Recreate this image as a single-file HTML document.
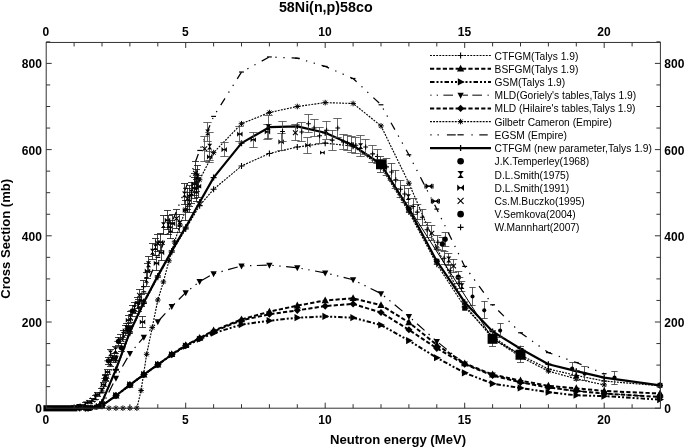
<!DOCTYPE html>
<html><head><meta charset="utf-8"><title>58Ni(n,p)58co</title>
<style>html,body{margin:0;padding:0;background:#fff;width:685px;height:447px;overflow:hidden;font-family:"Liberation Sans",sans-serif}</style></head>
<body>
<svg width="685" height="447" viewBox="0 0 685 447" style="position:absolute;left:0;top:0;will-change:transform">
<g>
<path d="M79.68,408.2 L88.05,406.48 L102,390.96 L115.95,360.79 L129.9,326.31 L143.85,291.83 L157.8,257.35 L171.75,222.87 L185.7,188.39 L199.65,150.46 L213.6,116.41 L241.5,72.02 L269.4,56.94 L297.3,58.23 L325.2,66.42 L353.1,78.49 L381,104.78 L408.9,154.77 L436.8,209.08 L464.7,266.4 L492.6,304.76 L520.5,332.77 L548.4,352.6 L576.3,362.51 L604.2,373.72" fill="none" stroke="#000" stroke-width="1.25" stroke-dasharray="8 6.7 1.3 6.7 1.3 7" stroke-dashoffset="1.77" stroke-linejoin="round"/>
<path d="M77.28,408.2 h4.8" stroke="#000" stroke-width="1.2"/>
<path d="M85.65,406.48 h4.8" stroke="#000" stroke-width="1.2"/>
<path d="M99.6,390.96 h4.8" stroke="#000" stroke-width="1.2"/>
<path d="M113.55,360.79 h4.8" stroke="#000" stroke-width="1.2"/>
<path d="M127.5,326.31 h4.8" stroke="#000" stroke-width="1.2"/>
<path d="M141.45,291.83 h4.8" stroke="#000" stroke-width="1.2"/>
<path d="M155.4,257.35 h4.8" stroke="#000" stroke-width="1.2"/>
<path d="M169.35,222.87 h4.8" stroke="#000" stroke-width="1.2"/>
<path d="M183.3,188.39 h4.8" stroke="#000" stroke-width="1.2"/>
<path d="M197.25,150.46 h4.8" stroke="#000" stroke-width="1.2"/>
<path d="M211.2,116.41 h4.8" stroke="#000" stroke-width="1.2"/>
<path d="M239.1,72.02 h4.8" stroke="#000" stroke-width="1.2"/>
<path d="M267,56.94 h4.8" stroke="#000" stroke-width="1.2"/>
<path d="M294.9,58.23 h4.8" stroke="#000" stroke-width="1.2"/>
<path d="M322.8,66.42 h4.8" stroke="#000" stroke-width="1.2"/>
<path d="M350.7,78.49 h4.8" stroke="#000" stroke-width="1.2"/>
<path d="M378.6,104.78 h4.8" stroke="#000" stroke-width="1.2"/>
<path d="M406.5,154.77 h4.8" stroke="#000" stroke-width="1.2"/>
<path d="M434.4,209.08 h4.8" stroke="#000" stroke-width="1.2"/>
<path d="M462.3,266.4 h4.8" stroke="#000" stroke-width="1.2"/>
<path d="M490.2,304.76 h4.8" stroke="#000" stroke-width="1.2"/>
<path d="M518.1,332.77 h4.8" stroke="#000" stroke-width="1.2"/>
<path d="M546,352.6 h4.8" stroke="#000" stroke-width="1.2"/>
<path d="M573.9,362.51 h4.8" stroke="#000" stroke-width="1.2"/>
<path d="M601.8,373.72 h4.8" stroke="#000" stroke-width="1.2"/>
<path d="M108.97,408.2 L115.95,408.2 L122.92,408.2 L129.9,408.2 L136.88,408.2 L141.06,390.53 L146.64,354.32 L152.22,327.6 L157.8,300.02 L163.38,281.92 L168.96,260.8 L174.54,241.83 L180.12,225.02 L185.7,209.51 L199.65,179.77 L213.6,152.62 L241.5,123.74 L269.4,112.53 L297.3,106.5 L325.2,102.62 L353.1,103.48 L381,125.89 L408.9,183.22 L436.8,247.87 L464.7,304.76 L492.6,338.38 L520.5,356.91 L548.4,371.13 L576.3,378.89 L604.2,384.93" fill="none" stroke="#000" stroke-width="1.15" stroke-dasharray="1.9 1.2" stroke-linejoin="round"/>
<path d="M106.17,408.2 h5.6 M108.97,405.4 v5.6 M106.96,406.18 l4.03,4.03 M106.96,410.22 l4.03,-4.03" stroke="#000" stroke-width="1.0" fill="none"/>
<path d="M113.15,408.2 h5.6 M115.95,405.4 v5.6 M113.93,406.18 l4.03,4.03 M113.93,410.22 l4.03,-4.03" stroke="#000" stroke-width="1.0" fill="none"/>
<path d="M120.12,408.2 h5.6 M122.92,405.4 v5.6 M120.91,406.18 l4.03,4.03 M120.91,410.22 l4.03,-4.03" stroke="#000" stroke-width="1.0" fill="none"/>
<path d="M127.1,408.2 h5.6 M129.9,405.4 v5.6 M127.88,406.18 l4.03,4.03 M127.88,410.22 l4.03,-4.03" stroke="#000" stroke-width="1.0" fill="none"/>
<path d="M134.07,408.2 h5.6 M136.88,405.4 v5.6 M134.86,406.18 l4.03,4.03 M134.86,410.22 l4.03,-4.03" stroke="#000" stroke-width="1.0" fill="none"/>
<path d="M138.26,390.53 h5.6 M141.06,387.73 v5.6 M139.04,388.51 l4.03,4.03 M139.04,392.55 l4.03,-4.03" stroke="#000" stroke-width="1.0" fill="none"/>
<path d="M143.84,354.32 h5.6 M146.64,351.52 v5.6 M144.62,352.31 l4.03,4.03 M144.62,356.34 l4.03,-4.03" stroke="#000" stroke-width="1.0" fill="none"/>
<path d="M149.42,327.6 h5.6 M152.22,324.8 v5.6 M150.2,325.59 l4.03,4.03 M150.2,329.62 l4.03,-4.03" stroke="#000" stroke-width="1.0" fill="none"/>
<path d="M155,300.02 h5.6 M157.8,297.22 v5.6 M155.78,298 l4.03,4.03 M155.78,302.04 l4.03,-4.03" stroke="#000" stroke-width="1.0" fill="none"/>
<path d="M160.58,281.92 h5.6 M163.38,279.12 v5.6 M161.36,279.9 l4.03,4.03 M161.36,283.93 l4.03,-4.03" stroke="#000" stroke-width="1.0" fill="none"/>
<path d="M166.16,260.8 h5.6 M168.96,258 v5.6 M166.94,258.78 l4.03,4.03 M166.94,262.81 l4.03,-4.03" stroke="#000" stroke-width="1.0" fill="none"/>
<path d="M171.74,241.83 h5.6 M174.54,239.03 v5.6 M172.52,239.82 l4.03,4.03 M172.52,243.85 l4.03,-4.03" stroke="#000" stroke-width="1.0" fill="none"/>
<path d="M177.32,225.02 h5.6 M180.12,222.22 v5.6 M178.1,223.01 l4.03,4.03 M178.1,227.04 l4.03,-4.03" stroke="#000" stroke-width="1.0" fill="none"/>
<path d="M182.9,209.51 h5.6 M185.7,206.71 v5.6 M183.68,207.49 l4.03,4.03 M183.68,211.52 l4.03,-4.03" stroke="#000" stroke-width="1.0" fill="none"/>
<path d="M196.85,179.77 h5.6 M199.65,176.97 v5.6 M197.63,177.75 l4.03,4.03 M197.63,181.79 l4.03,-4.03" stroke="#000" stroke-width="1.0" fill="none"/>
<path d="M210.8,152.62 h5.6 M213.6,149.82 v5.6 M211.58,150.6 l4.03,4.03 M211.58,154.63 l4.03,-4.03" stroke="#000" stroke-width="1.0" fill="none"/>
<path d="M238.7,123.74 h5.6 M241.5,120.94 v5.6 M239.48,121.72 l4.03,4.03 M239.48,125.76 l4.03,-4.03" stroke="#000" stroke-width="1.0" fill="none"/>
<path d="M266.6,112.53 h5.6 M269.4,109.73 v5.6 M267.38,110.52 l4.03,4.03 M267.38,114.55 l4.03,-4.03" stroke="#000" stroke-width="1.0" fill="none"/>
<path d="M294.5,106.5 h5.6 M297.3,103.7 v5.6 M295.28,104.48 l4.03,4.03 M295.28,108.52 l4.03,-4.03" stroke="#000" stroke-width="1.0" fill="none"/>
<path d="M322.4,102.62 h5.6 M325.2,99.82 v5.6 M323.18,100.6 l4.03,4.03 M323.18,104.64 l4.03,-4.03" stroke="#000" stroke-width="1.0" fill="none"/>
<path d="M350.3,103.48 h5.6 M353.1,100.68 v5.6 M351.08,101.47 l4.03,4.03 M351.08,105.5 l4.03,-4.03" stroke="#000" stroke-width="1.0" fill="none"/>
<path d="M378.2,125.89 h5.6 M381,123.09 v5.6 M378.98,123.88 l4.03,4.03 M378.98,127.91 l4.03,-4.03" stroke="#000" stroke-width="1.0" fill="none"/>
<path d="M406.1,183.22 h5.6 M408.9,180.42 v5.6 M406.88,181.2 l4.03,4.03 M406.88,185.23 l4.03,-4.03" stroke="#000" stroke-width="1.0" fill="none"/>
<path d="M434,247.87 h5.6 M436.8,245.07 v5.6 M434.78,245.85 l4.03,4.03 M434.78,249.88 l4.03,-4.03" stroke="#000" stroke-width="1.0" fill="none"/>
<path d="M461.9,304.76 h5.6 M464.7,301.96 v5.6 M462.68,302.74 l4.03,4.03 M462.68,306.78 l4.03,-4.03" stroke="#000" stroke-width="1.0" fill="none"/>
<path d="M489.8,338.38 h5.6 M492.6,335.58 v5.6 M490.58,336.36 l4.03,4.03 M490.58,340.39 l4.03,-4.03" stroke="#000" stroke-width="1.0" fill="none"/>
<path d="M517.7,356.91 h5.6 M520.5,354.11 v5.6 M518.48,354.89 l4.03,4.03 M518.48,358.93 l4.03,-4.03" stroke="#000" stroke-width="1.0" fill="none"/>
<path d="M545.6,371.13 h5.6 M548.4,368.33 v5.6 M546.38,369.12 l4.03,4.03 M546.38,373.15 l4.03,-4.03" stroke="#000" stroke-width="1.0" fill="none"/>
<path d="M573.5,378.89 h5.6 M576.3,376.09 v5.6 M574.28,376.88 l4.03,4.03 M574.28,380.91 l4.03,-4.03" stroke="#000" stroke-width="1.0" fill="none"/>
<path d="M601.4,384.93 h5.6 M604.2,382.13 v5.6 M602.18,382.91 l4.03,4.03 M602.18,386.94 l4.03,-4.03" stroke="#000" stroke-width="1.0" fill="none"/>
<path d="M79.68,408.2 L85.26,408.2 L90.84,407.77 L96.42,406.48 L102,402.17 L115.95,370.27 L129.9,333.21 L143.85,303.47 L157.8,277.18 L171.75,252.18 L185.7,228.9 L199.65,205.63 L213.6,189.25 L241.5,165.98 L269.4,153.48 L297.3,147.01 L325.2,143.13 L353.1,146.15 L381,166.84 L408.9,212.09 L436.8,264.25 L464.7,306.91 L492.6,336.65 L520.5,355.19 L548.4,368.98 L576.3,375.44 L604.2,381.05 L660,385.79" fill="none" stroke="#000" stroke-width="1.15" stroke-dasharray="1.9 1.2" stroke-linejoin="round"/>
<path d="M76.68,408.2 h6 M79.68,405.2 v6" stroke="#000" stroke-width="1.1" fill="none"/>
<path d="M82.26,408.2 h6 M85.26,405.2 v6" stroke="#000" stroke-width="1.1" fill="none"/>
<path d="M87.84,407.77 h6 M90.84,404.77 v6" stroke="#000" stroke-width="1.1" fill="none"/>
<path d="M93.42,406.48 h6 M96.42,403.48 v6" stroke="#000" stroke-width="1.1" fill="none"/>
<path d="M99,402.17 h6 M102,399.17 v6" stroke="#000" stroke-width="1.1" fill="none"/>
<path d="M112.95,370.27 h6 M115.95,367.27 v6" stroke="#000" stroke-width="1.1" fill="none"/>
<path d="M126.9,333.21 h6 M129.9,330.21 v6" stroke="#000" stroke-width="1.1" fill="none"/>
<path d="M140.85,303.47 h6 M143.85,300.47 v6" stroke="#000" stroke-width="1.1" fill="none"/>
<path d="M154.8,277.18 h6 M157.8,274.18 v6" stroke="#000" stroke-width="1.1" fill="none"/>
<path d="M168.75,252.18 h6 M171.75,249.18 v6" stroke="#000" stroke-width="1.1" fill="none"/>
<path d="M182.7,228.9 h6 M185.7,225.9 v6" stroke="#000" stroke-width="1.1" fill="none"/>
<path d="M196.65,205.63 h6 M199.65,202.63 v6" stroke="#000" stroke-width="1.1" fill="none"/>
<path d="M210.6,189.25 h6 M213.6,186.25 v6" stroke="#000" stroke-width="1.1" fill="none"/>
<path d="M238.5,165.98 h6 M241.5,162.98 v6" stroke="#000" stroke-width="1.1" fill="none"/>
<path d="M266.4,153.48 h6 M269.4,150.48 v6" stroke="#000" stroke-width="1.1" fill="none"/>
<path d="M294.3,147.01 h6 M297.3,144.01 v6" stroke="#000" stroke-width="1.1" fill="none"/>
<path d="M322.2,143.13 h6 M325.2,140.13 v6" stroke="#000" stroke-width="1.1" fill="none"/>
<path d="M350.1,146.15 h6 M353.1,143.15 v6" stroke="#000" stroke-width="1.1" fill="none"/>
<path d="M378,166.84 h6 M381,163.84 v6" stroke="#000" stroke-width="1.1" fill="none"/>
<path d="M405.9,212.09 h6 M408.9,209.09 v6" stroke="#000" stroke-width="1.1" fill="none"/>
<path d="M433.8,264.25 h6 M436.8,261.25 v6" stroke="#000" stroke-width="1.1" fill="none"/>
<path d="M461.7,306.91 h6 M464.7,303.91 v6" stroke="#000" stroke-width="1.1" fill="none"/>
<path d="M489.6,336.65 h6 M492.6,333.65 v6" stroke="#000" stroke-width="1.1" fill="none"/>
<path d="M517.5,355.19 h6 M520.5,352.19 v6" stroke="#000" stroke-width="1.1" fill="none"/>
<path d="M545.4,368.98 h6 M548.4,365.98 v6" stroke="#000" stroke-width="1.1" fill="none"/>
<path d="M573.3,375.44 h6 M576.3,372.44 v6" stroke="#000" stroke-width="1.1" fill="none"/>
<path d="M601.2,381.05 h6 M604.2,378.05 v6" stroke="#000" stroke-width="1.1" fill="none"/>
<path d="M657,385.79 h6 M660,382.79 v6" stroke="#000" stroke-width="1.1" fill="none"/>
<path d="M88.05,408.2 L102,406.05 L115.95,378.03 L129.9,353.46 L143.85,337.08 L157.8,321.57 L171.75,306.48 L185.7,292.69 L199.65,281.49 L213.6,273.73 L241.5,265.97 L269.4,265.11 L297.3,267.69 L325.2,272.87 L353.1,279.76 L381,293.55 L408.9,316.4 L436.8,341.39 L464.7,363.81 L492.6,375.01 L520.5,382.34 L548.4,387.51 L576.3,390.96 L604.2,393.55 L660,396.99" fill="none" stroke="#000" stroke-width="1.2" stroke-dasharray="10 5.5 1.4 5.5 1.4 5.5" stroke-linejoin="round"/>
<path d="M88.05,411.8 L91.2,405.8 L84.9,405.8 Z" fill="#000"/>
<path d="M102,409.65 L105.15,403.65 L98.85,403.65 Z" fill="#000"/>
<path d="M115.95,381.63 L119.1,375.63 L112.8,375.63 Z" fill="#000"/>
<path d="M129.9,357.06 L133.05,351.06 L126.75,351.06 Z" fill="#000"/>
<path d="M143.85,340.69 L147,334.69 L140.7,334.69 Z" fill="#000"/>
<path d="M157.8,325.17 L160.95,319.17 L154.65,319.17 Z" fill="#000"/>
<path d="M171.75,310.08 L174.9,304.08 L168.6,304.08 Z" fill="#000"/>
<path d="M185.7,296.29 L188.85,290.29 L182.55,290.29 Z" fill="#000"/>
<path d="M199.65,285.09 L202.8,279.09 L196.5,279.09 Z" fill="#000"/>
<path d="M213.6,277.33 L216.75,271.33 L210.45,271.33 Z" fill="#000"/>
<path d="M241.5,269.57 L244.65,263.57 L238.35,263.57 Z" fill="#000"/>
<path d="M269.4,268.71 L272.55,262.71 L266.25,262.71 Z" fill="#000"/>
<path d="M297.3,271.29 L300.45,265.29 L294.15,265.29 Z" fill="#000"/>
<path d="M325.2,276.47 L328.35,270.47 L322.05,270.47 Z" fill="#000"/>
<path d="M353.1,283.36 L356.25,277.36 L349.95,277.36 Z" fill="#000"/>
<path d="M381,297.15 L384.15,291.15 L377.85,291.15 Z" fill="#000"/>
<path d="M408.9,320 L412.05,314 L405.75,314 Z" fill="#000"/>
<path d="M436.8,345 L439.95,339 L433.65,339 Z" fill="#000"/>
<path d="M464.7,367.41 L467.85,361.41 L461.55,361.41 Z" fill="#000"/>
<path d="M492.6,378.61 L495.75,372.61 L489.45,372.61 Z" fill="#000"/>
<path d="M520.5,385.94 L523.65,379.94 L517.35,379.94 Z" fill="#000"/>
<path d="M548.4,391.11 L551.55,385.11 L545.25,385.11 Z" fill="#000"/>
<path d="M576.3,394.56 L579.45,388.56 L573.15,388.56 Z" fill="#000"/>
<path d="M604.2,397.15 L607.35,391.15 L601.05,391.15 Z" fill="#000"/>
<path d="M660,400.59 L663.15,394.59 L656.85,394.59 Z" fill="#000"/>
<path d="M88.05,408.2 L102,405.61 L115.95,395.7 L129.9,384.93 L143.85,374.58 L157.8,364.67 L171.75,354.32 L185.7,345.27 L199.65,337.95 L213.6,330.62 L241.5,319.41 L269.4,311.66 L297.3,305.62 L325.2,300.45 L353.1,298.29 L381,305.19 L408.9,322.43 L436.8,344.84 L464.7,363.38 L492.6,374.58 L520.5,380.62 L548.4,385.79 L576.3,388.37 L604.2,390.96 L660,393.55" fill="none" stroke="#000" stroke-width="2.0" stroke-dasharray="4.2 2.2" stroke-linejoin="round"/>
<path d="M88.05,404.2 L91.65,411 L84.45,411 Z" fill="#000"/>
<path d="M102,401.61 L105.6,408.41 L98.4,408.41 Z" fill="#000"/>
<path d="M115.95,391.7 L119.55,398.5 L112.35,398.5 Z" fill="#000"/>
<path d="M129.9,380.93 L133.5,387.73 L126.3,387.73 Z" fill="#000"/>
<path d="M143.85,370.58 L147.45,377.38 L140.25,377.38 Z" fill="#000"/>
<path d="M157.8,360.67 L161.4,367.47 L154.2,367.47 Z" fill="#000"/>
<path d="M171.75,350.32 L175.35,357.12 L168.15,357.12 Z" fill="#000"/>
<path d="M185.7,341.27 L189.3,348.07 L182.1,348.07 Z" fill="#000"/>
<path d="M199.65,333.95 L203.25,340.75 L196.05,340.75 Z" fill="#000"/>
<path d="M213.6,326.62 L217.2,333.42 L210,333.42 Z" fill="#000"/>
<path d="M241.5,315.41 L245.1,322.21 L237.9,322.21 Z" fill="#000"/>
<path d="M269.4,307.66 L273,314.46 L265.8,314.46 Z" fill="#000"/>
<path d="M297.3,301.62 L300.9,308.42 L293.7,308.42 Z" fill="#000"/>
<path d="M325.2,296.45 L328.8,303.25 L321.6,303.25 Z" fill="#000"/>
<path d="M353.1,294.29 L356.7,301.09 L349.5,301.09 Z" fill="#000"/>
<path d="M381,301.19 L384.6,307.99 L377.4,307.99 Z" fill="#000"/>
<path d="M408.9,318.43 L412.5,325.23 L405.3,325.23 Z" fill="#000"/>
<path d="M436.8,340.84 L440.4,347.64 L433.2,347.64 Z" fill="#000"/>
<path d="M464.7,359.38 L468.3,366.18 L461.1,366.18 Z" fill="#000"/>
<path d="M492.6,370.58 L496.2,377.38 L489,377.38 Z" fill="#000"/>
<path d="M520.5,376.62 L524.1,383.42 L516.9,383.42 Z" fill="#000"/>
<path d="M548.4,381.79 L552,388.59 L544.8,388.59 Z" fill="#000"/>
<path d="M576.3,384.37 L579.9,391.17 L572.7,391.17 Z" fill="#000"/>
<path d="M604.2,386.96 L607.8,393.76 L600.6,393.76 Z" fill="#000"/>
<path d="M660,389.55 L663.6,396.35 L656.4,396.35 Z" fill="#000"/>
<path d="M88.05,408.2 L102,405.61 L115.95,395.7 L129.9,384.93 L143.85,374.58 L157.8,364.67 L171.75,354.76 L185.7,345.7 L199.65,338.38 L213.6,331.48 L241.5,320.28 L269.4,314.24 L297.3,310.36 L325.2,306.05 L353.1,303.9 L381,312.52 L408.9,329.76 L436.8,348.29 L464.7,364.24 L492.6,375.44 L520.5,382.34 L548.4,387.51 L576.3,390.96 L604.2,393.55 L660,396.99" fill="none" stroke="#000" stroke-width="2.0" stroke-dasharray="4.2 2.2" stroke-dashoffset="3.2" stroke-linejoin="round"/>
<path d="M88.05,404.6 L91.65,408.2 L88.05,411.8 L84.45,408.2 Z" fill="#000"/>
<path d="M102,402.01 L105.6,405.61 L102,409.21 L98.4,405.61 Z" fill="#000"/>
<path d="M115.95,392.1 L119.55,395.7 L115.95,399.3 L112.35,395.7 Z" fill="#000"/>
<path d="M129.9,381.33 L133.5,384.93 L129.9,388.53 L126.3,384.93 Z" fill="#000"/>
<path d="M143.85,370.98 L147.45,374.58 L143.85,378.18 L140.25,374.58 Z" fill="#000"/>
<path d="M157.8,361.07 L161.4,364.67 L157.8,368.27 L154.2,364.67 Z" fill="#000"/>
<path d="M171.75,351.16 L175.35,354.76 L171.75,358.36 L168.15,354.76 Z" fill="#000"/>
<path d="M185.7,342.1 L189.3,345.7 L185.7,349.31 L182.1,345.7 Z" fill="#000"/>
<path d="M199.65,334.78 L203.25,338.38 L199.65,341.98 L196.05,338.38 Z" fill="#000"/>
<path d="M213.6,327.88 L217.2,331.48 L213.6,335.08 L210,331.48 Z" fill="#000"/>
<path d="M241.5,316.68 L245.1,320.28 L241.5,323.88 L237.9,320.28 Z" fill="#000"/>
<path d="M269.4,310.64 L273,314.24 L269.4,317.84 L265.8,314.24 Z" fill="#000"/>
<path d="M297.3,306.76 L300.9,310.36 L297.3,313.96 L293.7,310.36 Z" fill="#000"/>
<path d="M325.2,302.45 L328.8,306.05 L325.2,309.65 L321.6,306.05 Z" fill="#000"/>
<path d="M353.1,300.3 L356.7,303.9 L353.1,307.5 L349.5,303.9 Z" fill="#000"/>
<path d="M381,308.92 L384.6,312.52 L381,316.12 L377.4,312.52 Z" fill="#000"/>
<path d="M408.9,326.16 L412.5,329.76 L408.9,333.36 L405.3,329.76 Z" fill="#000"/>
<path d="M436.8,344.69 L440.4,348.29 L436.8,351.89 L433.2,348.29 Z" fill="#000"/>
<path d="M464.7,360.64 L468.3,364.24 L464.7,367.84 L461.1,364.24 Z" fill="#000"/>
<path d="M492.6,371.84 L496.2,375.44 L492.6,379.04 L489,375.44 Z" fill="#000"/>
<path d="M520.5,378.74 L524.1,382.34 L520.5,385.94 L516.9,382.34 Z" fill="#000"/>
<path d="M548.4,383.91 L552,387.51 L548.4,391.11 L544.8,387.51 Z" fill="#000"/>
<path d="M576.3,387.36 L579.9,390.96 L576.3,394.56 L572.7,390.96 Z" fill="#000"/>
<path d="M604.2,389.95 L607.8,393.55 L604.2,397.15 L600.6,393.55 Z" fill="#000"/>
<path d="M660,393.39 L663.6,396.99 L660,400.59 L656.4,396.99 Z" fill="#000"/>
<path d="M88.05,408.2 L102,405.61 L115.95,395.7 L129.9,384.93 L143.85,374.58 L157.8,364.67 L171.75,354.76 L185.7,346.14 L199.65,339.24 L213.6,333.21 L241.5,324.59 L269.4,320.71 L297.3,317.69 L325.2,316.4 L353.1,317.69 L381,325.02 L408.9,340.53 L436.8,357.77 L464.7,372.86 L492.6,383.63 L520.5,387.94 L548.4,392.25 L576.3,395.27 L604.2,396.13 L660,399.58" fill="none" stroke="#000" stroke-width="2.0" stroke-dasharray="4.5 2 2 2 2 2" stroke-dashoffset="1.5" stroke-linejoin="round"/>
<path d="M92.05,408.2 L85.25,404.6 L85.25,411.8 Z" fill="#000"/>
<path d="M106,405.61 L99.2,402.01 L99.2,409.21 Z" fill="#000"/>
<path d="M119.95,395.7 L113.15,392.1 L113.15,399.3 Z" fill="#000"/>
<path d="M133.9,384.93 L127.1,381.33 L127.1,388.53 Z" fill="#000"/>
<path d="M147.85,374.58 L141.05,370.98 L141.05,378.18 Z" fill="#000"/>
<path d="M161.8,364.67 L155,361.07 L155,368.27 Z" fill="#000"/>
<path d="M175.75,354.76 L168.95,351.16 L168.95,358.36 Z" fill="#000"/>
<path d="M189.7,346.14 L182.9,342.54 L182.9,349.74 Z" fill="#000"/>
<path d="M203.65,339.24 L196.85,335.64 L196.85,342.84 Z" fill="#000"/>
<path d="M217.6,333.21 L210.8,329.61 L210.8,336.81 Z" fill="#000"/>
<path d="M245.5,324.59 L238.7,320.99 L238.7,328.19 Z" fill="#000"/>
<path d="M273.4,320.71 L266.6,317.11 L266.6,324.31 Z" fill="#000"/>
<path d="M301.3,317.69 L294.5,314.09 L294.5,321.29 Z" fill="#000"/>
<path d="M329.2,316.4 L322.4,312.8 L322.4,320 Z" fill="#000"/>
<path d="M357.1,317.69 L350.3,314.09 L350.3,321.29 Z" fill="#000"/>
<path d="M385,325.02 L378.2,321.42 L378.2,328.62 Z" fill="#000"/>
<path d="M412.9,340.53 L406.1,336.93 L406.1,344.13 Z" fill="#000"/>
<path d="M440.8,357.77 L434,354.17 L434,361.37 Z" fill="#000"/>
<path d="M468.7,372.86 L461.9,369.26 L461.9,376.46 Z" fill="#000"/>
<path d="M496.6,383.63 L489.8,380.03 L489.8,387.23 Z" fill="#000"/>
<path d="M524.5,387.94 L517.7,384.34 L517.7,391.54 Z" fill="#000"/>
<path d="M552.4,392.25 L545.6,388.65 L545.6,395.85 Z" fill="#000"/>
<path d="M580.3,395.27 L573.5,391.67 L573.5,398.87 Z" fill="#000"/>
<path d="M608.2,396.13 L601.4,392.53 L601.4,399.73 Z" fill="#000"/>
<path d="M664,399.58 L657.2,395.98 L657.2,403.18 Z" fill="#000"/>
<path d="M79.68,408.2 L85.26,408.2 L90.84,407.77 L96.42,406.48 L102,402.17 L115.95,369.41 L129.9,331.91 L143.85,302.17 L157.8,275.88 L171.75,250.88 L185.7,227.18 L199.65,202.18 L213.6,177.61 L241.5,143.13 L269.4,127.19 L297.3,126.33 L325.2,132.79 L353.1,145.29 L381,164.25 L408.9,209.08 L436.8,261.23 L464.7,302.17 L492.6,331.48 L520.5,348.72 L548.4,364.24 L576.3,371.13 L604.2,377.6 L660,385.36" fill="none" stroke="#000" stroke-width="2.2" stroke-linejoin="round"/>
<path d="M76.68,408.2 h6 M79.68,405.2 v6" stroke="#000" stroke-width="1.3" fill="none"/>
<path d="M82.26,408.2 h6 M85.26,405.2 v6" stroke="#000" stroke-width="1.3" fill="none"/>
<path d="M87.84,407.77 h6 M90.84,404.77 v6" stroke="#000" stroke-width="1.3" fill="none"/>
<path d="M93.42,406.48 h6 M96.42,403.48 v6" stroke="#000" stroke-width="1.3" fill="none"/>
<path d="M99,402.17 h6 M102,399.17 v6" stroke="#000" stroke-width="1.3" fill="none"/>
<path d="M112.95,369.41 h6 M115.95,366.41 v6" stroke="#000" stroke-width="1.3" fill="none"/>
<path d="M126.9,331.91 h6 M129.9,328.91 v6" stroke="#000" stroke-width="1.3" fill="none"/>
<path d="M140.85,302.17 h6 M143.85,299.17 v6" stroke="#000" stroke-width="1.3" fill="none"/>
<path d="M154.8,275.88 h6 M157.8,272.88 v6" stroke="#000" stroke-width="1.3" fill="none"/>
<path d="M168.75,250.88 h6 M171.75,247.88 v6" stroke="#000" stroke-width="1.3" fill="none"/>
<path d="M182.7,227.18 h6 M185.7,224.18 v6" stroke="#000" stroke-width="1.3" fill="none"/>
<path d="M196.65,202.18 h6 M199.65,199.18 v6" stroke="#000" stroke-width="1.3" fill="none"/>
<path d="M210.6,177.61 h6 M213.6,174.61 v6" stroke="#000" stroke-width="1.3" fill="none"/>
<path d="M238.5,143.13 h6 M241.5,140.13 v6" stroke="#000" stroke-width="1.3" fill="none"/>
<path d="M266.4,127.19 h6 M269.4,124.19 v6" stroke="#000" stroke-width="1.3" fill="none"/>
<path d="M294.3,126.33 h6 M297.3,123.33 v6" stroke="#000" stroke-width="1.3" fill="none"/>
<path d="M322.2,132.79 h6 M325.2,129.79 v6" stroke="#000" stroke-width="1.3" fill="none"/>
<path d="M350.1,145.29 h6 M353.1,142.29 v6" stroke="#000" stroke-width="1.3" fill="none"/>
<path d="M378,164.25 h6 M381,161.25 v6" stroke="#000" stroke-width="1.3" fill="none"/>
<path d="M405.9,209.08 h6 M408.9,206.08 v6" stroke="#000" stroke-width="1.3" fill="none"/>
<path d="M433.8,261.23 h6 M436.8,258.23 v6" stroke="#000" stroke-width="1.3" fill="none"/>
<path d="M461.7,302.17 h6 M464.7,299.17 v6" stroke="#000" stroke-width="1.3" fill="none"/>
<path d="M489.6,331.48 h6 M492.6,328.48 v6" stroke="#000" stroke-width="1.3" fill="none"/>
<path d="M517.5,348.72 h6 M520.5,345.72 v6" stroke="#000" stroke-width="1.3" fill="none"/>
<path d="M545.4,364.24 h6 M548.4,361.24 v6" stroke="#000" stroke-width="1.3" fill="none"/>
<path d="M573.3,371.13 h6 M576.3,368.13 v6" stroke="#000" stroke-width="1.3" fill="none"/>
<path d="M601.2,377.6 h6 M604.2,374.6 v6" stroke="#000" stroke-width="1.3" fill="none"/>
<path d="M657,385.36 h6 M660,382.36 v6" stroke="#000" stroke-width="1.3" fill="none"/>
<rect x="43.4" y="405.2" width="34.05" height="6.2" fill="#000"/>
<path d="M78.28,405.32 L81.16,408.2 L78.28,411.08 L75.41,408.2 Z" fill="#000"/>
<path d="M81.08,405.29 L83.95,408.17 L81.08,411.05 L78.2,408.17 Z" fill="#000"/>
<path d="M83.86,405.21 L86.74,408.09 L83.86,410.97 L80.98,408.09 Z" fill="#000"/>
<path d="M86.66,405.08 L89.53,407.96 L86.66,410.84 L83.78,407.96 Z" fill="#000"/>
<path d="M89.44,404.89 L92.32,407.77 L89.44,410.65 L86.56,407.77 Z" fill="#000"/>
<path d="M92.23,404.65 L95.11,407.53 L92.23,410.41 L89.36,407.53 Z" fill="#000"/>
<path d="M95.03,404.35 L97.91,407.23 L95.03,410.11 L92.15,407.23 Z" fill="#000"/>
<path d="M97.81,404 L100.69,406.88 L97.81,409.76 L94.94,406.88 Z" fill="#000"/>
<path d="M100.6,403.6 L103.48,406.48 L100.6,409.36 L97.72,406.48 Z" fill="#000"/>
<path d="M74.5,405.5 V408.5 M71,405.5 h7 M71,408.5 h7" stroke="#111" stroke-width="0.8" fill="none"/>
<path d="M71.78,404.78 L71.78,409.9 L77.22,404.78 L77.22,409.9 Z" fill="#000"/><path d="M72.87,407.34 h3.26" stroke="#000" stroke-width="1.04"/>
<path d="M78.5,405.5 V408.5 M75,405.5 h7 M75,408.5 h7" stroke="#111" stroke-width="0.8" fill="none"/>
<path d="M75.94,404.03 L81.06,404.03 L75.94,409.79 L81.06,409.79 Z" fill="#000"/><path d="M78.5,405.18 v3.46" stroke="#000" stroke-width="1.04"/>
<path d="M82.5,404.5 V407.5 M79,404.5 h7 M79,407.5 h7" stroke="#111" stroke-width="0.8" fill="none"/>
<path d="M79.78,403.05 L79.78,408.17 L85.22,403.05 L85.22,408.17 Z" fill="#000"/><path d="M80.87,405.61 h3.26" stroke="#000" stroke-width="1.04"/>
<path d="M85.5,402.5 V405.5 M82,402.5 h7 M82,405.5 h7" stroke="#111" stroke-width="0.8" fill="none"/>
<path d="M82.94,401.44 L88.06,401.44 L82.94,407.2 L88.06,407.2 Z" fill="#000"/><path d="M85.5,402.59 v3.46" stroke="#000" stroke-width="1.04"/>
<path d="M89.5,400.5 V403.5 M86,400.5 h7 M86,403.5 h7" stroke="#111" stroke-width="0.8" fill="none"/>
<path d="M86.78,399.61 L86.78,404.73 L92.22,399.61 L92.22,404.73 Z" fill="#000"/><path d="M87.87,402.17 h3.26" stroke="#000" stroke-width="1.04"/>
<path d="M92.5,398.5 V401.5 M89,398.5 h7 M89,401.5 h7" stroke="#111" stroke-width="0.8" fill="none"/>
<path d="M90.1,397.61 l4.8,4.8 M90.1,402.41 l4.8,-4.8" stroke="#000" stroke-width="1.1" fill="none"/>
<path d="M95.5,395.5 V399.5 M92,395.5 h7 M92,399.5 h7" stroke="#111" stroke-width="0.8" fill="none"/>
<path d="M92.94,394.55 L98.06,394.55 L92.94,400.31 L98.06,400.31 Z" fill="#000"/><path d="M95.5,395.7 v3.46" stroke="#000" stroke-width="1.04"/>
<path d="M97.5,392.5 V396.5 M94,392.5 h7 M94,396.5 h7" stroke="#111" stroke-width="0.8" fill="none"/>
<path d="M94.78,391.85 L94.78,396.97 L100.22,391.85 L100.22,396.97 Z" fill="#000"/><path d="M95.87,394.41 h3.26" stroke="#000" stroke-width="1.04"/>
<path d="M101.5,388.5 V392.5 M98,388.5 h7 M98,392.5 h7" stroke="#111" stroke-width="0.8" fill="none"/>
<path d="M98.94,387.65 L104.06,387.65 L98.94,393.41 L104.06,393.41 Z" fill="#000"/><path d="M101.5,388.8 v3.46" stroke="#000" stroke-width="1.04"/>
<path d="M108.5,357.5 V364.5 M105,357.5 h7 M105,364.5 h7 M104.3,360.79 h8.4" stroke="#111" stroke-width="0.8" fill="none"/>
<circle cx="108.5" cy="360.79" r="2.64" fill="#000"/>
<path d="M105.5,375.5 V381.5 M102,375.5 h7 M102,381.5 h7 M101.3,378.46 h8.4" stroke="#111" stroke-width="0.8" fill="none"/>
<circle cx="105.5" cy="378.46" r="2.64" fill="#000"/>
<path d="M110.5,349.5 V357.5 M107,349.5 h7 M107,357.5 h7" stroke="#111" stroke-width="0.8" fill="none"/>
<path d="M107.94,350.58 L113.06,350.58 L107.94,356.34 L113.06,356.34 Z" fill="#000"/><path d="M110.5,351.73 v3.46" stroke="#000" stroke-width="1.04"/>
<path d="M114.5,353.5 V360.5 M111,353.5 h7 M111,360.5 h7" stroke="#111" stroke-width="0.8" fill="none"/>
<path d="M111.78,354.35 L111.78,359.47 L117.22,354.35 L117.22,359.47 Z" fill="#000"/><path d="M112.87,356.91 h3.26" stroke="#000" stroke-width="1.04"/>
<path d="M121.5,343.5 V351.5 M118,343.5 h7 M118,351.5 h7 M117.3,347.86 h8.4" stroke="#111" stroke-width="0.8" fill="none"/>
<circle cx="121.5" cy="347.86" r="2.64" fill="#000"/>
<path d="M128.5,323.5 V333.5 M125,323.5 h7 M125,333.5 h7 M124.3,328.46 h8.4" stroke="#111" stroke-width="0.8" fill="none"/>
<circle cx="128.5" cy="328.46" r="2.64" fill="#000"/>
<path d="M103.5,382.5 V386.5 M100,382.5 h7 M100,386.5 h7" stroke="#111" stroke-width="0.8" fill="none"/>
<path d="M100.78,381.94 L100.78,387.06 L106.22,381.94 L106.22,387.06 Z" fill="#000"/><path d="M101.87,384.5 h3.26" stroke="#000" stroke-width="1.04"/>
<path d="M105.5,374.5 V380.5 M102,374.5 h7 M102,380.5 h7" stroke="#111" stroke-width="0.8" fill="none"/>
<path d="M102.94,374.72 L108.06,374.72 L102.94,380.48 L108.06,380.48 Z" fill="#000"/><path d="M105.5,375.87 v3.46" stroke="#000" stroke-width="1.04"/>
<path d="M107.5,369.5 V374.5 M104,369.5 h7 M104,374.5 h7" stroke="#111" stroke-width="0.8" fill="none"/>
<path d="M104.78,369.44 L104.78,374.56 L110.22,369.44 L110.22,374.56 Z" fill="#000"/><path d="M105.87,372 h3.26" stroke="#000" stroke-width="1.04"/>
<path d="M110.5,359.5 V366.5 M107,359.5 h7 M107,366.5 h7" stroke="#111" stroke-width="0.8" fill="none"/>
<path d="M107.94,360.06 L113.06,360.06 L107.94,365.82 L113.06,365.82 Z" fill="#000"/><path d="M110.5,361.22 v3.46" stroke="#000" stroke-width="1.04"/>
<path d="M113.5,355.5 V362.5 M110,355.5 h7 M110,362.5 h7" stroke="#111" stroke-width="0.8" fill="none"/>
<path d="M110.78,356.07 L110.78,361.19 L116.22,356.07 L116.22,361.19 Z" fill="#000"/><path d="M111.87,358.63 h3.26" stroke="#000" stroke-width="1.04"/>
<path d="M115.5,346.5 V353.5 M112,346.5 h7 M112,353.5 h7" stroke="#111" stroke-width="0.8" fill="none"/>
<path d="M112.94,347.13 L118.06,347.13 L112.94,352.89 L118.06,352.89 Z" fill="#000"/><path d="M115.5,348.29 v3.46" stroke="#000" stroke-width="1.04"/>
<path d="M118.5,337.5 V345.5 M115,337.5 h7 M115,345.5 h7 M114.3,341.39 h8.4" stroke="#111" stroke-width="0.8" fill="none"/>
<circle cx="118.5" cy="341.39" r="2.64" fill="#000"/>
<path d="M120.5,334.5 V343.5 M117,334.5 h7 M117,343.5 h7" stroke="#111" stroke-width="0.8" fill="none"/>
<path d="M117.78,336.68 L117.78,341.8 L123.22,336.68 L123.22,341.8 Z" fill="#000"/><path d="M118.87,339.24 h3.26" stroke="#000" stroke-width="1.04"/>
<path d="M123.5,330.5 V339.5 M120,330.5 h7 M120,339.5 h7" stroke="#111" stroke-width="0.8" fill="none"/>
<path d="M120.94,332.05 L126.06,332.05 L120.94,337.81 L126.06,337.81 Z" fill="#000"/><path d="M123.5,333.2 v3.46" stroke="#000" stroke-width="1.04"/>
<path d="M125.5,325.5 V335.5 M122,325.5 h7 M122,335.5 h7" stroke="#111" stroke-width="0.8" fill="none"/>
<path d="M122.78,328.06 L122.78,333.18 L128.22,328.06 L128.22,333.18 Z" fill="#000"/><path d="M123.87,330.62 h3.26" stroke="#000" stroke-width="1.04"/>
<path d="M126.5,323.5 V332.5 M123,323.5 h7 M123,332.5 h7" stroke="#111" stroke-width="0.8" fill="none"/>
<path d="M123.94,325.15 L129.06,325.15 L123.94,330.91 L129.06,330.91 Z" fill="#000"/><path d="M126.5,326.31 v3.46" stroke="#000" stroke-width="1.04"/>
<path d="M128.5,315.5 V325.5 M125,315.5 h7 M125,325.5 h7" stroke="#111" stroke-width="0.8" fill="none"/>
<path d="M125.78,317.72 L125.78,322.84 L131.22,317.72 L131.22,322.84 Z" fill="#000"/><path d="M126.87,320.28 h3.26" stroke="#000" stroke-width="1.04"/>
<path d="M130.5,311.5 V322.5 M127,311.5 h7 M127,322.5 h7" stroke="#111" stroke-width="0.8" fill="none"/>
<path d="M127.94,313.95 L133.06,313.95 L127.94,319.71 L133.06,319.71 Z" fill="#000"/><path d="M130.5,315.1 v3.46" stroke="#000" stroke-width="1.04"/>
<path d="M132.5,305.5 V316.5 M129,305.5 h7 M129,316.5 h7 M128.3,310.79 h8.4" stroke="#111" stroke-width="0.8" fill="none"/>
<circle cx="132.5" cy="310.79" r="2.64" fill="#000"/>
<path d="M134.5,302.5 V313.5 M131,302.5 h7 M131,313.5 h7" stroke="#111" stroke-width="0.8" fill="none"/>
<path d="M131.94,305.33 L137.06,305.33 L131.94,311.09 L137.06,311.09 Z" fill="#000"/><path d="M134.5,306.48 v3.46" stroke="#000" stroke-width="1.04"/>
<path d="M137.5,297.5 V308.5 M134,297.5 h7 M134,308.5 h7" stroke="#111" stroke-width="0.8" fill="none"/>
<path d="M134.78,300.48 L134.78,305.6 L140.22,300.48 L140.22,305.6 Z" fill="#000"/><path d="M135.87,303.04 h3.26" stroke="#000" stroke-width="1.04"/>
<path d="M138.5,299.5 V311.5 M135,299.5 h7 M135,311.5 h7" stroke="#111" stroke-width="0.8" fill="none"/>
<path d="M135.94,302.74 L141.06,302.74 L135.94,308.5 L141.06,308.5 Z" fill="#000"/><path d="M138.5,303.89 v3.46" stroke="#000" stroke-width="1.04"/>
<path d="M139.5,289.5 V301.5 M136,289.5 h7 M136,301.5 h7" stroke="#111" stroke-width="0.8" fill="none"/>
<path d="M137.1,292.88 l4.8,4.8 M137.1,297.68 l4.8,-4.8" stroke="#000" stroke-width="1.1" fill="none"/>
<path d="M141.5,294.5 V306.5 M138,294.5 h7 M138,306.5 h7" stroke="#111" stroke-width="0.8" fill="none"/>
<path d="M138.78,297.89 L138.78,303.01 L144.22,297.89 L144.22,303.01 Z" fill="#000"/><path d="M139.87,300.45 h3.26" stroke="#000" stroke-width="1.04"/>
<path d="M142.5,316.5 V327.5 M139,316.5 h7 M139,327.5 h7" stroke="#111" stroke-width="0.8" fill="none"/>
<path d="M139.78,319.44 L139.78,324.56 L145.22,319.44 L145.22,324.56 Z" fill="#000"/><path d="M140.87,322 h3.26" stroke="#000" stroke-width="1.04"/>
<path d="M143.5,280.5 V293.5 M140,280.5 h7 M140,293.5 h7" stroke="#111" stroke-width="0.8" fill="none"/>
<path d="M141.1,286.66 h4.8 M143.5,284.26 v4.8" stroke="#000" stroke-width="1.1" fill="none"/>
<path d="M146.5,272.5 V286.5 M143,272.5 h7 M143,286.5 h7" stroke="#111" stroke-width="0.8" fill="none"/>
<path d="M143.94,276.88 L149.06,276.88 L143.94,282.64 L149.06,282.64 Z" fill="#000"/><path d="M146.5,278.03 v3.46" stroke="#000" stroke-width="1.04"/>
<path d="M147.5,263.5 V278.5 M144,263.5 h7 M144,278.5 h7" stroke="#111" stroke-width="0.8" fill="none"/>
<path d="M144.78,268.58 L144.78,273.7 L150.22,268.58 L150.22,273.7 Z" fill="#000"/><path d="M145.87,271.14 h3.26" stroke="#000" stroke-width="1.04"/>
<path d="M148.5,256.5 V271.5 M145,256.5 h7 M145,271.5 h7" stroke="#111" stroke-width="0.8" fill="none"/>
<path d="M145.94,261.37 L151.06,261.37 L145.94,267.13 L151.06,267.13 Z" fill="#000"/><path d="M148.5,262.52 v3.46" stroke="#000" stroke-width="1.04"/>
<path d="M156.5,255.5 V270.5 M153,255.5 h7 M153,270.5 h7" stroke="#111" stroke-width="0.8" fill="none"/>
<path d="M153.78,260.82 L153.78,265.94 L159.22,260.82 L159.22,265.94 Z" fill="#000"/><path d="M154.87,263.38 h3.26" stroke="#000" stroke-width="1.04"/>
<path d="M152.5,243.5 V259.5 M149,243.5 h7 M149,259.5 h7" stroke="#111" stroke-width="0.8" fill="none"/>
<path d="M149.94,248.87 L155.06,248.87 L149.94,254.63 L155.06,254.63 Z" fill="#000"/><path d="M152.5,250.02 v3.46" stroke="#000" stroke-width="1.04"/>
<path d="M161.5,244.5 V260.5 M158,244.5 h7 M158,260.5 h7" stroke="#111" stroke-width="0.8" fill="none"/>
<path d="M158.78,250.05 L158.78,255.17 L164.22,250.05 L164.22,255.17 Z" fill="#000"/><path d="M159.87,252.61 h3.26" stroke="#000" stroke-width="1.04"/>
<path d="M155.5,238.5 V255.5 M152,238.5 h7 M152,255.5 h7" stroke="#111" stroke-width="0.8" fill="none"/>
<path d="M152.94,244.13 L158.06,244.13 L152.94,249.89 L158.06,249.89 Z" fill="#000"/><path d="M155.5,245.28 v3.46" stroke="#000" stroke-width="1.04"/>
<path d="M160.5,233.5 V250.5 M157,233.5 h7 M157,250.5 h7" stroke="#111" stroke-width="0.8" fill="none"/>
<path d="M157.78,239.7 L157.78,244.82 L163.22,239.7 L163.22,244.82 Z" fill="#000"/><path d="M158.87,242.26 h3.26" stroke="#000" stroke-width="1.04"/>
<path d="M157.5,234.5 V251.5 M154,234.5 h7 M154,251.5 h7" stroke="#111" stroke-width="0.8" fill="none"/>
<path d="M155.1,240.73 l4.8,4.8 M155.1,245.53 l4.8,-4.8" stroke="#000" stroke-width="1.1" fill="none"/>
<path d="M163.5,215.5 V234.5 M160,215.5 h7 M160,234.5 h7" stroke="#111" stroke-width="0.8" fill="none"/>
<path d="M160.94,222.14 L166.06,222.14 L160.94,227.9 L166.06,227.9 Z" fill="#000"/><path d="M163.5,223.3 v3.46" stroke="#000" stroke-width="1.04"/>
<path d="M167.5,210.5 V229.5 M164,210.5 h7 M164,229.5 h7" stroke="#111" stroke-width="0.8" fill="none"/>
<path d="M164.78,217.72 L164.78,222.84 L170.22,217.72 L170.22,222.84 Z" fill="#000"/><path d="M165.87,220.28 h3.26" stroke="#000" stroke-width="1.04"/>
<path d="M168.5,215.5 V234.5 M165,215.5 h7 M165,234.5 h7" stroke="#111" stroke-width="0.8" fill="none"/>
<path d="M165.94,222.14 L171.06,222.14 L165.94,227.9 L171.06,227.9 Z" fill="#000"/><path d="M168.5,223.3 v3.46" stroke="#000" stroke-width="1.04"/>
<path d="M172.5,214.5 V232.5 M169,214.5 h7 M169,232.5 h7" stroke="#111" stroke-width="0.8" fill="none"/>
<path d="M169.78,221.17 L169.78,226.29 L175.22,221.17 L175.22,226.29 Z" fill="#000"/><path d="M170.87,223.73 h3.26" stroke="#000" stroke-width="1.04"/>
<path d="M179.5,214.5 V232.5 M176,214.5 h7 M176,232.5 h7" stroke="#111" stroke-width="0.8" fill="none"/>
<path d="M176.94,220.85 L182.06,220.85 L176.94,226.61 L182.06,226.61 Z" fill="#000"/><path d="M179.5,222 v3.46" stroke="#000" stroke-width="1.04"/>
<path d="M176.5,209.5 V228.5 M173,209.5 h7 M173,228.5 h7" stroke="#111" stroke-width="0.8" fill="none"/>
<path d="M174.1,216.16 l4.8,4.8 M174.1,220.96 l4.8,-4.8" stroke="#000" stroke-width="1.1" fill="none"/>
<path d="M170.5,220.5 V238.5 M167,220.5 h7 M167,238.5 h7" stroke="#111" stroke-width="0.8" fill="none"/>
<path d="M167.94,226.45 L173.06,226.45 L167.94,232.21 L173.06,232.21 Z" fill="#000"/><path d="M170.5,227.61 v3.46" stroke="#000" stroke-width="1.04"/>
<path d="M184.5,183.5 V204.5 M181,183.5 h7 M181,204.5 h7" stroke="#111" stroke-width="0.8" fill="none"/>
<path d="M181.94,191.54 L187.06,191.54 L181.94,197.3 L187.06,197.3 Z" fill="#000"/><path d="M184.5,192.7 v3.46" stroke="#000" stroke-width="1.04"/>
<path d="M185.5,200.5 V220.5 M182,200.5 h7 M182,220.5 h7" stroke="#111" stroke-width="0.8" fill="none"/>
<path d="M182.78,207.81 L182.78,212.93 L188.22,207.81 L188.22,212.93 Z" fill="#000"/><path d="M183.87,210.37 h3.26" stroke="#000" stroke-width="1.04"/>
<path d="M189.5,192.5 V212.5 M186,192.5 h7 M186,212.5 h7" stroke="#111" stroke-width="0.8" fill="none"/>
<path d="M186.94,199.73 L192.06,199.73 L186.94,205.49 L192.06,205.49 Z" fill="#000"/><path d="M189.5,200.88 v3.46" stroke="#000" stroke-width="1.04"/>
<path d="M189.5,185.5 V206.5 M186,185.5 h7 M186,206.5 h7" stroke="#111" stroke-width="0.8" fill="none"/>
<path d="M186.78,193.16 L186.78,198.28 L192.22,193.16 L192.22,198.28 Z" fill="#000"/><path d="M187.87,195.72 h3.26" stroke="#000" stroke-width="1.04"/>
<path d="M187.5,188.5 V209.5 M184,188.5 h7 M184,209.5 h7" stroke="#111" stroke-width="0.8" fill="none"/>
<path d="M185.1,196.33 l4.8,4.8 M185.1,201.13 l4.8,-4.8" stroke="#000" stroke-width="1.1" fill="none"/>
<path d="M191.5,182.5 V203.5 M188,182.5 h7 M188,203.5 h7" stroke="#111" stroke-width="0.8" fill="none"/>
<path d="M188.94,189.82 L194.06,189.82 L188.94,195.58 L194.06,195.58 Z" fill="#000"/><path d="M191.5,190.97 v3.46" stroke="#000" stroke-width="1.04"/>
<path d="M194.5,177.5 V198.5 M191,177.5 h7 M191,198.5 h7" stroke="#111" stroke-width="0.8" fill="none"/>
<path d="M191.78,185.4 L191.78,190.52 L197.22,185.4 L197.22,190.52 Z" fill="#000"/><path d="M192.87,187.96 h3.26" stroke="#000" stroke-width="1.04"/>
<path d="M196.5,169.5 V191.5 M193,169.5 h7 M193,191.5 h7" stroke="#111" stroke-width="0.8" fill="none"/>
<path d="M193.94,177.32 L199.06,177.32 L193.94,183.08 L199.06,183.08 Z" fill="#000"/><path d="M196.5,178.47 v3.46" stroke="#000" stroke-width="1.04"/>
<path d="M194.5,173.5 V195.5 M191,173.5 h7 M191,195.5 h7" stroke="#111" stroke-width="0.8" fill="none"/>
<path d="M191.78,181.52 L191.78,186.64 L197.22,181.52 L197.22,186.64 Z" fill="#000"/><path d="M192.87,184.08 h3.26" stroke="#000" stroke-width="1.04"/>
<path d="M197.5,165.5 V187.5 M194,165.5 h7 M194,187.5 h7" stroke="#111" stroke-width="0.8" fill="none"/>
<path d="M194.94,173.44 L200.06,173.44 L194.94,179.2 L200.06,179.2 Z" fill="#000"/><path d="M197.5,174.59 v3.46" stroke="#000" stroke-width="1.04"/>
<path d="M198.5,175.5 V197.5 M195,175.5 h7 M195,197.5 h7" stroke="#111" stroke-width="0.8" fill="none"/>
<path d="M195.78,183.67 L195.78,188.79 L201.22,183.67 L201.22,188.79 Z" fill="#000"/><path d="M196.87,186.23 h3.26" stroke="#000" stroke-width="1.04"/>
<path d="M195.5,161.5 V184.5 M192,161.5 h7 M192,184.5 h7" stroke="#111" stroke-width="0.8" fill="none"/>
<path d="M193.1,170.9 l4.8,4.8 M193.1,175.7 l4.8,-4.8" stroke="#000" stroke-width="1.1" fill="none"/>
<path d="M196.5,179.5 V201.5 M193,179.5 h7 M193,201.5 h7" stroke="#111" stroke-width="0.8" fill="none"/>
<path d="M193.94,187.66 L199.06,187.66 L193.94,193.42 L199.06,193.42 Z" fill="#000"/><path d="M196.5,188.82 v3.46" stroke="#000" stroke-width="1.04"/>
<path d="M207.5,122.5 V141.5 M203.3,122.5 h8.4 M203.3,141.5 h8.4" stroke="#444" stroke-width="0.8" fill="none"/>
<path d="M205.18,129.48 L210.3,129.48 L205.18,135.24 L210.3,135.24 Z" fill="#000"/><path d="M207.74,130.63 v3.46" stroke="#000" stroke-width="1.04"/>
<path d="M204.5,136.5 V161.5 M200.3,136.5 h8.4 M200.3,161.5 h8.4" stroke="#444" stroke-width="0.8" fill="none"/>
<path d="M202.27,146.34 l4.8,4.8 M202.27,151.14 l4.8,-4.8" stroke="#000" stroke-width="1.1" fill="none"/>
<path d="M209.5,132.5 V160.5 M205.3,132.5 h8.4 M205.3,160.5 h8.4" stroke="#444" stroke-width="0.8" fill="none"/>
<path d="M207.13,143.7 L212.25,143.7 L207.13,149.46 L212.25,149.46 Z" fill="#000"/><path d="M209.69,144.85 v3.46" stroke="#000" stroke-width="1.04"/>
<path d="M209.5,151.5 V162.5 M205.3,151.5 h8.4 M205.3,162.5 h8.4" stroke="#444" stroke-width="0.8" fill="none"/>
<path d="M206.97,154.37 L206.97,159.49 L212.41,154.37 L212.41,159.49 Z" fill="#000"/><path d="M208.06,156.93 h3.26" stroke="#000" stroke-width="1.04"/>
<path d="M224.5,142.5 V156.5 M220.3,142.5 h8.4 M220.3,156.5 h8.4" stroke="#444" stroke-width="0.8" fill="none"/>
<path d="M221.48,147.04 L221.48,152.16 L226.92,147.04 L226.92,152.16 Z" fill="#000"/><path d="M222.57,149.6 h3.26" stroke="#000" stroke-width="1.04"/>
<path d="M239.5,126.5 V141.5 M235.3,126.5 h8.4 M235.3,141.5 h8.4" stroke="#444" stroke-width="0.8" fill="none"/>
<path d="M237.11,131.52 L237.11,136.64 L242.55,131.52 L242.55,136.64 Z" fill="#000"/><path d="M238.19,134.08 h3.26" stroke="#000" stroke-width="1.04"/>
<path d="M253.5,132.5 V147.5 M249.3,132.5 h8.4 M249.3,147.5 h8.4" stroke="#444" stroke-width="0.8" fill="none"/>
<path d="M250.5,137.13 L250.5,142.25 L255.94,137.13 L255.94,142.25 Z" fill="#000"/><path d="M251.59,139.69 h3.26" stroke="#000" stroke-width="1.04"/>
<path d="M267.5,124.5 V139.5 M263.3,124.5 h8.4 M263.3,139.5 h8.4" stroke="#444" stroke-width="0.8" fill="none"/>
<path d="M264.73,129.37 L264.73,134.49 L270.17,129.37 L270.17,134.49 Z" fill="#000"/><path d="M265.81,131.93 h3.26" stroke="#000" stroke-width="1.04"/>
<path d="M268.5,115.5 V138.5 M264.3,115.5 h8.4 M264.3,138.5 h8.4" stroke="#444" stroke-width="0.8" fill="none"/>
<path d="M265.44,124.31 L270.56,124.31 L265.44,130.07 L270.56,130.07 Z" fill="#000"/><path d="M268,125.46 v3.46" stroke="#000" stroke-width="1.04"/>
<path d="M281.5,133.5 V150.5 M277.3,133.5 h8.4 M277.3,150.5 h8.4" stroke="#444" stroke-width="0.8" fill="none"/>
<path d="M278.4,139.28 L278.4,144.4 L283.84,139.28 L283.84,144.4 Z" fill="#000"/><path d="M279.49,141.84 h3.26" stroke="#000" stroke-width="1.04"/>
<path d="M282.5,121.5 V141.5 M278.3,121.5 h8.4 M278.3,141.5 h8.4" stroke="#444" stroke-width="0.8" fill="none"/>
<path d="M280.11,131.5 h4.8 M282.51,129.1 v4.8" stroke="#000" stroke-width="1.1" fill="none"/>
<path d="M295.5,124.5 V140.5 M291.3,124.5 h8.4 M291.3,140.5 h8.4" stroke="#444" stroke-width="0.8" fill="none"/>
<path d="M292.95,130.39 l4.8,4.8 M292.95,135.19 l4.8,-4.8" stroke="#000" stroke-width="1.1" fill="none"/>
<path d="M301.5,122.5 V141.5 M297.3,122.5 h8.4 M297.3,141.5 h8.4" stroke="#444" stroke-width="0.8" fill="none"/>
<path d="M299.36,131.93 h4.8 M301.76,129.53 v4.8" stroke="#000" stroke-width="1.1" fill="none"/>
<path d="M307.5,137.5 V153.5 M303.3,137.5 h8.4 M303.3,153.5 h8.4" stroke="#444" stroke-width="0.8" fill="none"/>
<path d="M305.18,142.73 L305.18,147.85 L310.62,142.73 L310.62,147.85 Z" fill="#000"/><path d="M306.27,145.29 h3.26" stroke="#000" stroke-width="1.04"/>
<path d="M308.5,114.5 V132.5 M304.3,114.5 h8.4 M304.3,132.5 h8.4" stroke="#444" stroke-width="0.8" fill="none"/>
<path d="M306.06,123.74 h4.8 M308.46,121.34 v4.8" stroke="#000" stroke-width="1.1" fill="none"/>
<path d="M314.5,119.5 V136.5 M310.3,119.5 h8.4 M310.3,136.5 h8.4" stroke="#444" stroke-width="0.8" fill="none"/>
<path d="M311.64,128.05 h4.8 M314.04,125.65 v4.8" stroke="#000" stroke-width="1.1" fill="none"/>
<path d="M319.5,127.5 V143.5 M315.3,127.5 h8.4 M315.3,143.5 h8.4" stroke="#444" stroke-width="0.8" fill="none"/>
<path d="M317.22,135.81 h4.8 M319.62,133.41 v4.8" stroke="#000" stroke-width="1.1" fill="none"/>
<path d="M326.5,121.5 V139.5 M322.3,121.5 h8.4 M322.3,139.5 h8.4" stroke="#444" stroke-width="0.8" fill="none"/>
<path d="M324.19,130.2 h4.8 M326.59,127.8 v4.8" stroke="#000" stroke-width="1.1" fill="none"/>
<path d="M332.5,130.5 V150.5 M328.3,130.5 h8.4 M328.3,150.5 h8.4" stroke="#444" stroke-width="0.8" fill="none"/>
<path d="M329.77,140.12 h4.8 M332.17,137.72 v4.8" stroke="#000" stroke-width="1.1" fill="none"/>
<path d="M337.5,118.5 V137.5 M333.3,118.5 h8.4 M333.3,137.5 h8.4" stroke="#444" stroke-width="0.8" fill="none"/>
<path d="M335.35,128.05 h4.8 M337.75,125.65 v4.8" stroke="#000" stroke-width="1.1" fill="none"/>
<path d="M343.5,134.5 V149.5 M339.3,134.5 h8.4 M339.3,149.5 h8.4" stroke="#444" stroke-width="0.8" fill="none"/>
<path d="M340.94,141.84 h4.8 M343.33,139.44 v4.8" stroke="#000" stroke-width="1.1" fill="none"/>
<path d="M347.5,135.5 V150.5 M343.3,135.5 h8.4 M343.3,150.5 h8.4" stroke="#444" stroke-width="0.8" fill="none"/>
<path d="M345.12,143.13 h4.8 M347.52,140.73 v4.8" stroke="#000" stroke-width="1.1" fill="none"/>
<path d="M351.5,136.5 V152.5 M347.3,136.5 h8.4 M347.3,152.5 h8.4" stroke="#444" stroke-width="0.8" fill="none"/>
<path d="M349.3,144.43 h4.8 M351.7,142.03 v4.8" stroke="#000" stroke-width="1.1" fill="none"/>
<path d="M355.5,137.5 V153.5 M351.3,137.5 h8.4 M351.3,153.5 h8.4" stroke="#444" stroke-width="0.8" fill="none"/>
<path d="M353.49,145.29 h4.8 M355.89,142.89 v4.8" stroke="#000" stroke-width="1.1" fill="none"/>
<path d="M360.5,135.5 V156.5 M356.3,135.5 h8.4 M356.3,156.5 h8.4" stroke="#444" stroke-width="0.8" fill="none"/>
<path d="M358.07,143.27 L363.19,143.27 L358.07,149.03 L363.19,149.03 Z" fill="#000"/><path d="M360.63,144.42 v3.46" stroke="#000" stroke-width="1.04"/>
<path d="M365.5,139.5 V154.5 M361.3,139.5 h8.4 M361.3,154.5 h8.4" stroke="#444" stroke-width="0.8" fill="none"/>
<path d="M363.25,147.01 h4.8 M365.65,144.61 v4.8" stroke="#000" stroke-width="1.1" fill="none"/>
<path d="M372.5,145.5 V162.5 M368.3,145.5 h8.4 M368.3,162.5 h8.4" stroke="#444" stroke-width="0.8" fill="none"/>
<path d="M370.23,153.91 h4.8 M372.63,151.51 v4.8" stroke="#000" stroke-width="1.1" fill="none"/>
<path d="M377.5,149.5 V163.5 M373.3,149.5 h8.4 M373.3,163.5 h8.4" stroke="#444" stroke-width="0.8" fill="none"/>
<path d="M374.97,156.5 h4.8 M377.37,154.1 v4.8" stroke="#000" stroke-width="1.1" fill="none"/>
<path d="M320.03,150.38 L320.03,154.86 L324.79,150.38 L324.79,154.86 Z" fill="#000"/><path d="M320.98,152.62 h2.86" stroke="#000" stroke-width="0.91"/>
<path d="M386.5,158.5 V175.5 M382.7,158.5 h7.6 M382.7,175.5 h7.6" stroke="#333" stroke-width="0.8" fill="none"/>
<path d="M384.18,166.84 h4.8 M386.58,164.44 v4.8" stroke="#000" stroke-width="1.1" fill="none"/>
<path d="M391.5,163.5 V180.5 M387.7,163.5 h7.6 M387.7,180.5 h7.6" stroke="#333" stroke-width="0.8" fill="none"/>
<path d="M389.2,172.01 h4.8 M391.6,169.61 v4.8" stroke="#000" stroke-width="1.1" fill="none"/>
<path d="M395.5,170.5 V188.5 M391.7,170.5 h7.6 M391.7,188.5 h7.6" stroke="#333" stroke-width="0.8" fill="none"/>
<path d="M393.39,179.77 h4.8 M395.79,177.37 v4.8" stroke="#000" stroke-width="1.1" fill="none"/>
<path d="M400.5,180.5 V197.5 M396.7,180.5 h7.6 M396.7,197.5 h7.6" stroke="#333" stroke-width="0.8" fill="none"/>
<path d="M398.13,189.25 h4.8 M400.53,186.85 v4.8" stroke="#000" stroke-width="1.1" fill="none"/>
<path d="M404.5,185.5 V202.5 M400.7,185.5 h7.6 M400.7,202.5 h7.6" stroke="#333" stroke-width="0.8" fill="none"/>
<path d="M402.31,193.99 h4.8 M404.71,191.59 v4.8" stroke="#000" stroke-width="1.1" fill="none"/>
<path d="M408.5,188.5 V205.5 M404.7,188.5 h7.6 M404.7,205.5 h7.6" stroke="#333" stroke-width="0.8" fill="none"/>
<path d="M405.78,194.13 L410.9,194.13 L405.78,199.89 L410.9,199.89 Z" fill="#000"/><path d="M408.34,195.28 v3.46" stroke="#000" stroke-width="1.04"/>
<path d="M413.5,198.5 V214.5 M409.7,198.5 h7.6 M409.7,214.5 h7.6" stroke="#333" stroke-width="0.8" fill="none"/>
<path d="M410.69,206.49 h4.8 M413.08,204.09 v4.8" stroke="#000" stroke-width="1.1" fill="none"/>
<path d="M417.5,204.5 V219.5 M413.7,204.5 h7.6 M413.7,219.5 h7.6" stroke="#333" stroke-width="0.8" fill="none"/>
<path d="M414.87,212.09 h4.8 M417.27,209.69 v4.8" stroke="#000" stroke-width="1.1" fill="none"/>
<path d="M422.5,209.5 V225.5 M418.7,209.5 h7.6 M418.7,225.5 h7.6" stroke="#333" stroke-width="0.8" fill="none"/>
<path d="M419.89,217.27 h4.8 M422.29,214.87 v4.8" stroke="#000" stroke-width="1.1" fill="none"/>
<path d="M427.5,222.5 V237.5 M423.7,222.5 h7.6 M423.7,237.5 h7.6" stroke="#333" stroke-width="0.8" fill="none"/>
<path d="M424.63,229.77 h4.8 M427.03,227.37 v4.8" stroke="#000" stroke-width="1.1" fill="none"/>
<path d="M431.5,225.5 V240.5 M427.7,225.5 h7.6 M427.7,240.5 h7.6" stroke="#333" stroke-width="0.8" fill="none"/>
<path d="M429.38,230.81 l4.8,4.8 M429.38,235.61 l4.8,-4.8" stroke="#000" stroke-width="1.1" fill="none"/>
<path d="M437.5,235.5 V249.5 M433.7,235.5 h7.6 M433.7,249.5 h7.6" stroke="#333" stroke-width="0.8" fill="none"/>
<path d="M435.52,242.26 h4.8 M437.92,239.86 v4.8" stroke="#000" stroke-width="1.1" fill="none"/>
<path d="M442.5,237.5 V250.5 M438.7,237.5 h7.6 M438.7,250.5 h7.6" stroke="#333" stroke-width="0.8" fill="none"/>
<circle cx="442.38" cy="243.99" r="2.64" fill="#000"/>
<path d="M445.5,232.5 V246.5 M441.7,232.5 h7.6 M441.7,246.5 h7.6" stroke="#333" stroke-width="0.8" fill="none"/>
<circle cx="445.17" cy="239.25" r="2.64" fill="#000"/>
<path d="M444.5,251.5 V264.5 M440.7,251.5 h7.6 M440.7,264.5 h7.6" stroke="#333" stroke-width="0.8" fill="none"/>
<path d="M441.65,258.21 h4.8 M444.05,255.81 v4.8" stroke="#000" stroke-width="1.1" fill="none"/>
<path d="M448.5,253.5 V265.5 M444.7,253.5 h7.6 M444.7,265.5 h7.6" stroke="#333" stroke-width="0.8" fill="none"/>
<path d="M446.24,256.62 L451.36,256.62 L446.24,262.38 L451.36,262.38 Z" fill="#000"/><path d="M448.8,257.78 v3.46" stroke="#000" stroke-width="1.04"/>
<path d="M450.5,264.5 V276.5 M446.7,264.5 h7.6 M446.7,276.5 h7.6" stroke="#333" stroke-width="0.8" fill="none"/>
<path d="M447.79,270.71 h4.8 M450.19,268.31 v4.8" stroke="#000" stroke-width="1.1" fill="none"/>
<path d="M453.5,259.5 V272.5 M449.7,259.5 h7.6 M449.7,272.5 h7.6" stroke="#333" stroke-width="0.8" fill="none"/>
<path d="M451.14,263.57 l4.8,4.8 M451.14,268.37 l4.8,-4.8" stroke="#000" stroke-width="1.1" fill="none"/>
<path d="M458.5,271.5 V283.5 M454.7,271.5 h7.6 M454.7,283.5 h7.6" stroke="#333" stroke-width="0.8" fill="none"/>
<circle cx="458.28" cy="277.18" r="2.64" fill="#000"/>
<path d="M459.5,277.5 V288.5 M455.7,277.5 h7.6 M455.7,288.5 h7.6" stroke="#333" stroke-width="0.8" fill="none"/>
<path d="M456.72,283.21 h4.8 M459.12,280.81 v4.8" stroke="#000" stroke-width="1.1" fill="none"/>
<path d="M461.5,281.5 V291.5 M457.7,281.5 h7.6 M457.7,291.5 h7.6" stroke="#333" stroke-width="0.8" fill="none"/>
<path d="M459.35,283.35 L464.47,283.35 L459.35,289.11 L464.47,289.11 Z" fill="#000"/><path d="M461.91,284.5 v3.46" stroke="#000" stroke-width="1.04"/>
<path d="M424.99,186.23 h8 M424.99,184.03 v4.4 M432.99,184.03 v4.4" stroke="#000" stroke-width="1.1" fill="none"/>
<path d="M425.76,183.19 L425.76,189.27 L432.22,183.19 L432.22,189.27 Z" fill="#000"/><path d="M427.05,186.23 h3.88" stroke="#000" stroke-width="1.23"/>
<path d="M431.4,201.32 h8 M431.4,199.12 v4.4 M439.4,199.12 v4.4" stroke="#000" stroke-width="1.1" fill="none"/>
<path d="M432.17,198.28 L432.17,204.36 L438.63,198.28 L438.63,204.36 Z" fill="#000"/><path d="M433.47,201.32 h3.88" stroke="#000" stroke-width="1.23"/>
<path d="M472.5,287.5 V305.5 M469.3,287.5 h6.4 M469.3,305.5 h6.4" stroke="#333" stroke-width="0.8" fill="none"/>
<circle cx="472.51" cy="296.57" r="2.05" fill="#000"/>
<path d="M484.5,301.5 V318.5 M481.3,301.5 h6.4 M481.3,318.5 h6.4" stroke="#333" stroke-width="0.8" fill="none"/>
<circle cx="484.23" cy="310.36" r="2.05" fill="#000"/>
<path d="M500.5,323.5 V337.5 M497.3,323.5 h6.4 M497.3,337.5 h6.4" stroke="#333" stroke-width="0.8" fill="none"/>
<circle cx="500.13" cy="330.62" r="2.05" fill="#000"/>
<path d="M572.5,362.5 V375.5 M569.3,362.5 h6.4 M569.3,375.5 h6.4" stroke="#333" stroke-width="0.8" fill="none"/>
<circle cx="572.12" cy="368.55" r="2.05" fill="#000"/>
<path d="M584.5,366.5 V380.5 M581.3,366.5 h6.4 M581.3,380.5 h6.4" stroke="#333" stroke-width="0.8" fill="none"/>
<circle cx="584.67" cy="373.72" r="2.05" fill="#000"/>
<path d="M614.5,371.5 V384.5 M611.3,371.5 h6.4 M611.3,384.5 h6.4" stroke="#333" stroke-width="0.8" fill="none"/>
<circle cx="614.52" cy="377.6" r="2.05" fill="#000"/>
<path d="M576.5,370.5 V380.5 M573.5,370.5 h6 M573.5,380.5 h6" stroke="#333" stroke-width="0.8" fill="none"/>
<path d="M576.3,372.55 L579.18,378 L573.42,378 Z" fill="#000"/>
<path d="M381,164.25 L492.6,338.81 L520.5,354.76" stroke="#000" stroke-width="1" fill="none"/>
<path d="M380.5,156.5 V172.5 M377,156.5 h7 M377,172.5 h7" stroke="#333" stroke-width="0.8" fill="none"/>
<rect x="376" y="159.25" width="10" height="10" fill="#000"/>
<path d="M492.5,330.5 V346.5 M489,330.5 h7 M489,346.5 h7" stroke="#333" stroke-width="0.8" fill="none"/>
<rect x="487.6" y="333.81" width="10" height="10" fill="#000"/>
<path d="M520.5,346.5 V362.5 M517,346.5 h7 M517,362.5 h7" stroke="#333" stroke-width="0.8" fill="none"/>
<rect x="515.5" y="349.76" width="10" height="10" fill="#000"/>
<rect x="406.4" y="206.58" width="5" height="5" fill="#000"/>
<rect x="434.3" y="258.73" width="5" height="5" fill="#000"/>
<rect x="462.2" y="305.71" width="5" height="5" fill="#000"/>
<rect x="657.5" y="382.86" width="5" height="5" fill="#000"/>
</g>
<rect x="46.2" y="42.45" width="614.2" height="365.75" fill="none" stroke="#333" stroke-width="1"/>
<path d="M74.1,408.2 v-4 M74.1,42.45 v4 M102,408.2 v-4 M102,42.45 v4 M129.9,408.2 v-4 M129.9,42.45 v4 M157.8,408.2 v-4 M157.8,42.45 v4 M185.7,408.2 v-5.5 M185.7,42.45 v5.5 M213.6,408.2 v-4 M213.6,42.45 v4 M241.5,408.2 v-4 M241.5,42.45 v4 M269.4,408.2 v-4 M269.4,42.45 v4 M297.3,408.2 v-4 M297.3,42.45 v4 M325.2,408.2 v-5.5 M325.2,42.45 v5.5 M353.1,408.2 v-4 M353.1,42.45 v4 M381,408.2 v-4 M381,42.45 v4 M408.9,408.2 v-4 M408.9,42.45 v4 M436.8,408.2 v-4 M436.8,42.45 v4 M464.7,408.2 v-5.5 M464.7,42.45 v5.5 M492.6,408.2 v-4 M492.6,42.45 v4 M520.5,408.2 v-4 M520.5,42.45 v4 M548.4,408.2 v-4 M548.4,42.45 v4 M576.3,408.2 v-4 M576.3,42.45 v4 M604.2,408.2 v-5.5 M604.2,42.45 v5.5 M632.1,408.2 v-4 M632.1,42.45 v4 M46.2,408.2 h5.5 M660.4,408.2 h-5.5 M46.2,386.65 h4 M660.4,386.65 h-4 M46.2,365.1 h4 M660.4,365.1 h-4 M46.2,343.55 h4 M660.4,343.55 h-4 M46.2,322 h5.5 M660.4,322 h-5.5 M46.2,300.45 h4 M660.4,300.45 h-4 M46.2,278.9 h4 M660.4,278.9 h-4 M46.2,257.35 h4 M660.4,257.35 h-4 M46.2,235.8 h5.5 M660.4,235.8 h-5.5 M46.2,214.25 h4 M660.4,214.25 h-4 M46.2,192.7 h4 M660.4,192.7 h-4 M46.2,171.15 h4 M660.4,171.15 h-4 M46.2,149.6 h5.5 M660.4,149.6 h-5.5 M46.2,128.05 h4 M660.4,128.05 h-4 M46.2,106.5 h4 M660.4,106.5 h-4 M46.2,84.95 h4 M660.4,84.95 h-4 M46.2,63.4 h5.5 M660.4,63.4 h-5.5 M46.2,41.85 h4 M660.4,41.85 h-4" stroke="#333" stroke-width="1" fill="none"/>
<g font-family="Liberation Sans, sans-serif" fill="#000">
<g font-weight="bold" font-size="12">
<text x="45.9" y="35.5" text-anchor="middle">0</text>
<text x="45.9" y="424.2" text-anchor="middle">0</text>
<text x="185.4" y="35.5" text-anchor="middle">5</text>
<text x="185.4" y="424.2" text-anchor="middle">5</text>
<text x="324.9" y="35.5" text-anchor="middle">10</text>
<text x="324.9" y="424.2" text-anchor="middle">10</text>
<text x="464.4" y="35.5" text-anchor="middle">15</text>
<text x="464.4" y="424.2" text-anchor="middle">15</text>
<text x="603.9" y="35.5" text-anchor="middle">20</text>
<text x="603.9" y="424.2" text-anchor="middle">20</text>
<text x="41.9" y="413.2" text-anchor="end">0</text>
<text x="664.3" y="413.2">0</text>
<text x="41.9" y="327" text-anchor="end">200</text>
<text x="664.3" y="327">200</text>
<text x="41.9" y="240.8" text-anchor="end">400</text>
<text x="664.3" y="240.8">400</text>
<text x="41.9" y="154.6" text-anchor="end">600</text>
<text x="664.3" y="154.6">600</text>
<text x="41.9" y="68.4" text-anchor="end">800</text>
<text x="664.3" y="68.4">800</text>
</g>
<text x="325.8" y="11.7" font-weight="bold" font-size="14.3" text-anchor="middle">58Ni(n,p)58co</text>
<text x="398" y="444" font-weight="bold" font-size="13.1" text-anchor="middle">Neutron energy (MeV)</text>
<text transform="translate(10.3,238.8) rotate(-90)" font-weight="bold" font-size="13.1" text-anchor="middle">Cross Section (mb)</text>
<path d="M430,55.5 H491" fill="none" stroke="#000" stroke-width="1.15" stroke-dasharray="1.9 1.2"/>
<path d="M457.6,55.5 h6 M460.6,52.5 v6" stroke="#000" stroke-width="1.1" fill="none"/>
<text x="494.6" y="59.6" font-size="10.25">CTFGM(Talys 1.9)</text>
<path d="M430,68.72 H491" fill="none" stroke="#000" stroke-width="2.0" stroke-dasharray="4.2 2.2"/>
<path d="M460.6,64.72 L464.2,71.52 L457,71.52 Z" fill="#000"/>
<text x="494.6" y="72.82" font-size="10.25">BSFGM(Talys 1.9)</text>
<path d="M430,81.94 H491" fill="none" stroke="#000" stroke-width="2.0" stroke-dasharray="4.5 2 2 2 2 2"/>
<path d="M464.6,81.94 L457.8,78.34 L457.8,85.54 Z" fill="#000"/>
<text x="494.6" y="86.04" font-size="10.25">GSM(Talys 1.9)</text>
<path d="M430.3,95.16 h1.3 M436.7,95.16 h1.3 M443.4,95.16 H453 M462.7,95.16 H468 M472.3,95.16 H482 M487.5,95.16 h1.3" fill="none" stroke="#000" stroke-width="1"/>
<path d="M460.6,98.76 L463.75,92.76 L457.45,92.76 Z" fill="#000"/>
<text x="494.6" y="99.26" font-size="10.25">MLD(Goriely's tables,Talys 1.9)</text>
<path d="M430,108.38 H491" fill="none" stroke="#000" stroke-width="2.0" stroke-dasharray="4.2 2.2"/>
<path d="M460.6,104.78 L464.2,108.38 L460.6,111.98 L457,108.38 Z" fill="#000"/>
<text x="494.6" y="112.48" font-size="10.25">MLD (Hilaire's tables,Talys 1.9)</text>
<path d="M430,121.6 H491" fill="none" stroke="#000" stroke-width="1.15" stroke-dasharray="1.9 1.2"/>
<path d="M457.8,121.6 h5.6 M460.6,118.8 v5.6 M458.58,119.58 l4.03,4.03 M458.58,123.62 l4.03,-4.03" stroke="#000" stroke-width="1.0" fill="none"/>
<text x="494.6" y="125.7" font-size="10.25">Gilbetr Cameron (Empire)</text>
<path d="M430.3,134.82 h1.3 M437.5,134.82 h1.3 M446.9,134.82 H455.7 M471.4,134.82 h1.3 M479.3,134.82 H487.7" fill="none" stroke="#111" stroke-width="1.3"/>
<path d="M457.48,134.82 h6.24" stroke="#000" stroke-width="1.2"/>
<text x="494.6" y="138.92" font-size="10.25">EGSM (Empire)</text>
<path d="M430,148.04 H491" fill="none" stroke="#000" stroke-width="2.2"/>
<path d="M457.6,148.04 h6 M460.6,145.04 v6" stroke="#000" stroke-width="1.3" fill="none"/>
<text x="494.6" y="152.14" font-size="10.25">CTFGM (new parameter,Talys 1.9)</text>
<circle cx="460.6" cy="161.26" r="3.3" fill="#000"/>
<text x="494.6" y="165.36" font-size="10.25">J.K.Temperley(1968)</text>
<path d="M457.4,170.88 L463.8,170.88 L457.4,178.08 L463.8,178.08 Z" fill="#000"/><path d="M460.6,172.32 v4.32" stroke="#000" stroke-width="1.3"/>
<text x="494.6" y="178.58" font-size="10.25">D.L.Smith(1975)</text>
<path d="M457.2,184.5 L457.2,190.9 L464,184.5 L464,190.9 Z" fill="#000"/><path d="M458.56,187.7 h4.08" stroke="#000" stroke-width="1.3"/>
<text x="494.6" y="191.8" font-size="10.25">D.L.Smith(1991)</text>
<path d="M457.6,197.92 l6,6 M457.6,203.92 l6,-6" stroke="#000" stroke-width="1.1" fill="none"/>
<text x="494.6" y="205.02" font-size="10.25">Cs.M.Buczko(1995)</text>
<circle cx="460.6" cy="214.14" r="3.3" fill="#000"/>
<text x="494.6" y="218.24" font-size="10.25">V.Semkova(2004)</text>
<path d="M457.6,227.36 h6 M460.6,224.36 v6" stroke="#000" stroke-width="1.1" fill="none"/>
<text x="494.6" y="231.46" font-size="10.25">W.Mannhart(2007)</text>
</g>
</svg>
</body></html>
